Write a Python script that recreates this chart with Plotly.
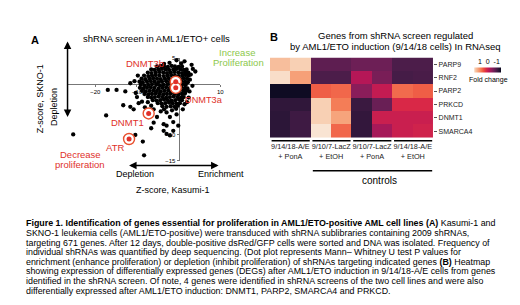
import plotly.graph_objects as go

# ---------------- Panel A data (Z-scores) ----------------
kasumi_z = [
    -3.5, -2.2, -0.5, 0.6, 1.4, 3.1, 4.0, 3.4,
    -5.2, -4.3, -3.5, -2.6, -1.7, -0.9, 0.0, 0.8,
    -6.6, -5.8, -4.9, -4.0, -3.1, -2.3, -1.3, -0.5, 0.4, 1.2, 1.9,
    -7.4, -6.5, -5.5, -4.6, -3.7, -2.8, -1.9, -1.0, -0.1, 0.8, 1.6, 2.3,
    -8.3, -7.3, -6.4, -5.5, -4.6, -3.6, -2.7, -1.8, -0.9, 0.0, 0.9, 1.7, 2.4,
    -8.9, -8.0, -7.0, -6.1, -5.2, -4.3, -3.3, -2.4, -1.5, -0.6, 0.3, 1.2, 2.0,
    -9.4, -8.6, -7.6, -6.7, -5.8, -4.9, -4.0, -3.0, -2.1, -1.2, -0.3, 0.6, 1.5, 2.2,
    -9.1, -8.2, -7.3, -6.4, -5.4, -4.5, -3.6, -2.7, -1.8, -0.9, 0.0, 0.9, 1.7,
    -9.3, -8.5, -7.6, -6.7, -5.8, -4.8, -3.9, -3.0, -2.1, -1.2, -0.3, 0.6, 1.5, 2.1,
    -8.8, -7.9, -7.0, -6.1, -5.2, -4.3, -3.4, -2.5, -1.6, -0.7, 0.2, 1.1, 1.8,
    -8.2, -7.3, -6.4, -5.5, -4.6, -3.7, -2.8, -1.9, -1.0, -0.1, 0.8, 1.5,
    -7.4, -6.6, -5.7, -4.8, -3.9, -3.0, -2.1, -1.2, -0.3, 0.6, 1.2,
    -6.2, -5.3, -4.4, -3.5, -2.6, -1.7, -0.8, 0.1, 0.8,
    -5.0, -4.1, -3.2, -2.3, -1.4, -0.5, 0.3,
    -3.9, -2.9, -1.9, -1.0, -0.2,
    -11.6, -10.6, -12.8, -10.3, -9.8, -10.0,
    2.7, 3.3, 2.9, 2.6, 2.4, 1.4, 1.0, 2.0,
    -4.3, -2.9, -5.2, -2.1, -0.5, -1.3, -0.1, -3.5, -1.6, -0.6, -6.0, -8.1, -8.8, -6.6, -7.4,
    -6.6, -6.0, -3.6, -2.9, -2.9, -2.1, -1.3, -10.4, -8.6, -8.3, -11.6, -9.6, -10.8, -3.6,
    -17.0, -14.9, -13.3, -17.4, -25.3,
]
skno_z = [
    3.9, 4.1, 4.6, 4.0, 4.4, 3.7, 2.4, 2.9,
    3.4, 3.5, 3.4, 3.3, 3.5, 3.4, 3.3, 3.4,
    2.8, 2.7, 2.8, 2.9, 2.8, 2.7, 2.8, 2.9, 2.8, 2.7, 2.8,
    2.2, 2.1, 2.2, 2.3, 2.2, 2.1, 2.2, 2.3, 2.2, 2.1, 2.2, 2.2,
    1.6, 1.5, 1.6, 1.7, 1.6, 1.5, 1.6, 1.7, 1.6, 1.5, 1.6, 1.7, 1.6,
    1.0, 0.9, 1.0, 1.1, 1.0, 0.9, 1.0, 1.1, 1.0, 0.9, 1.0, 1.1, 1.0,
    0.4, 0.3, 0.4, 0.5, 0.4, 0.3, 0.4, 0.5, 0.4, 0.3, 0.4, 0.5, 0.4, 0.3,
    -0.2, -0.3, -0.2, -0.1, -0.2, -0.3, -0.2, -0.1, -0.2, -0.3, -0.2, -0.1, -0.2,
    -0.8, -0.9, -0.8, -0.7, -0.8, -0.9, -0.8, -0.7, -0.8, -0.9, -0.8, -0.7, -0.8, -0.9,
    -1.4, -1.5, -1.4, -1.3, -1.4, -1.5, -1.4, -1.3, -1.4, -1.5, -1.4, -1.3, -1.4,
    -2.0, -2.1, -2.0, -1.9, -2.0, -2.1, -2.0, -1.9, -2.0, -2.1, -2.0, -1.9,
    -2.6, -2.7, -2.6, -2.5, -2.6, -2.7, -2.6, -2.5, -2.6, -2.7, -2.6,
    -3.2, -3.3, -3.2, -3.1, -3.2, -3.3, -3.2, -3.1, -3.2,
    -3.8, -3.9, -3.8, -3.7, -3.8, -3.9, -3.8,
    -4.4, -4.5, -4.4, -4.5, -4.3,
    0.1, 0.5, -1.5, -1.8, 1.6, -2.6,
    0.8, -0.4, 1.8, -1.5, -2.7, -4.0, -5.0, -3.6,
    -5.4, -5.6, -6.5, -6.5, -6.0, -7.5, -8.2, -5.0, -5.2, -4.9, -5.0, -4.6, -3.5, -4.3, -3.6,
    -8.7, -7.6, -9.2, -8.2, -9.8, -10.1, -9.2, -10.0, -11.3, -14.0, -4.5, -3.8, -5.0, -7.9,
    -1.2, -1.2, -4.2, -6.2, -9.9,
]

hit_genes = ["DNMT3b", "DNMT3a", "DNMT1", "ATR"]
hit_kasumi = [-0.7, -0.7, -7.2, -11.9]
hit_skno = [0.4, -0.8, -5.8, -10.8]

x_ticks = [-20, -10, 10]
y_ticks = [5, -10, -15]

# ---------------- Panel B data (fold change) ----------------
genes = ["PARP9", "RNF2", "PARP2", "PRKCD", "DNMT1", "SMARCA4"]
samples = [0, 1, 2, 3, 4, 5, 6, 7]
group_labels = ["9/14/18-A/E<br>+ PonA", "9/10/7-LacZ<br>+ EtOH",
                "9/10/7-LacZ<br>+ PonA", "9/14/18-A/E<br>+ EtOH"]
group_centers = [0.5, 2.5, 4.5, 6.5]
fold_change = [
    [0.84, 0.92, -0.56, -0.56, -0.48, -0.48, -0.66, -0.66],
    [0.96, 0.68, -0.66, -0.66, -0.12, -0.42, -0.70, -0.68],
    [-0.96, -0.96, 0.36, 0.40, -0.34, -0.04, 0.42, 0.36],
    [-0.82, -0.82, 0.92, 0.50, -0.76, -0.50, 0.10, 0.10],
    [-0.84, -0.74, 0.92, 0.70, -0.80, 0.00, 0.00, 0.00],
    [-0.84, -0.74, 0.98, 0.40, -0.80, -0.20, 0.00, 0.04],
]

caption_lines = [
    "<b>Figure 1. Identification of genes essential for proliferation in AML1/ETO-positive AML cell lines (A)</b> Kasumi-1 and",
    "SKNO-1 leukemia cells (AML1/ETO-positive) were transduced with shRNA sublibraries containing 2009 shRNAs,",
    "targeting 671 genes. After 12 days, double-positive dsRed/GFP cells were sorted and DNA was isolated. Frequency of",
    "individual shRNAs was quantified by deep sequencing. (Dot plot represents Mann– Whitney U test P values for",
    "enrichment (enhance proliferation) or depletion (inhibit proliferation) of shRNAs targeting indicated genes <b>(B)</b> Heatmap",
    "showing expression of differentially expressed genes (DEGs) after AML1/ETO induction in 9/14/18-A/E cells from genes",
    "identified in the shRNA screen. Of note, 4 genes were identified in shRNA screens of the two cell lines and were also",
    "differentially expressed after AML1/ETO induction: DNMT1, PARP2, SMARCA4 and PRKCD.",
]

W, H = 520, 305
FONT = "Liberation Sans, Arial, sans-serif"
RED = "#e0302a"
GREEN = "#8cc84b"


def px(x):
    return x / W


def py(y):
    return 1 - y / H


rocket_r = [
    [0.0, "#faebdd"], [0.05, "#f7c9aa"], [0.15, "#f6a47c"], [0.25, "#f47d57"],
    [0.35, "#ed503e"], [0.45, "#d92847"], [0.55, "#b91657"], [0.65, "#921c5b"],
    [0.75, "#691f55"], [0.85, "#451c47"], [0.95, "#221331"], [1.0, "#03051a"],
]

fig = go.Figure()

# scatter points
fig.add_trace(go.Scatter(
    x=kasumi_z, y=skno_z, mode="markers",
    marker=dict(size=4.3, color="black"), cliponaxis=False,
    xaxis="x", yaxis="y", showlegend=False, hoverinfo="skip"))
# highlighted hits: ring + white halo + red dot
fig.add_trace(go.Scatter(
    x=hit_kasumi, y=hit_skno, mode="markers", text=hit_genes,
    marker=dict(size=11, color="white", line=dict(color="#e8502e", width=1.4)),
    cliponaxis=False, xaxis="x", yaxis="y", showlegend=False))
fig.add_trace(go.Scatter(
    x=hit_kasumi, y=hit_skno, mode="markers", text=hit_genes,
    marker=dict(size=5, color=RED), cliponaxis=False,
    xaxis="x", yaxis="y", showlegend=False))

# heatmap (colorbar runs from +1 on the left to -1 on the right)
fig.add_trace(go.Heatmap(
    z=[[-v for v in row] for row in fold_change], x=samples, y=genes,
    customdata=fold_change,
    colorscale=rocket_r, zmin=-1, zmax=1, xaxis="x2", yaxis="y2",
    colorbar=dict(orientation="h", x=px(483.5), xanchor="center",
                  y=py(59.5), yanchor="middle", lenmode="pixels", len=27,
                  thickness=5, outlinewidth=0, showticklabels=False,
                  xpad=0, ypad=0)))

ann = []


def t(text, x, y, size=9, color="black", xanchor="center", angle=0, bold=False):
    if bold:
        text = "<b>" + text + "</b>"
    ann.append(dict(text=text, x=px(x), y=py(y), xref="paper", yref="paper",
                    showarrow=False, xanchor=xanchor, yanchor="middle",
                    textangle=angle, font=dict(size=size, color=color, family=FONT)))


# Panel A texts
t("A", 27, 29, size=11, bold=True)
t("shRNA screen in AML1/ETO+ cells", 150, 28, size=9.5)
t("Increase", 231, 42, size=9.5, color=GREEN)
t("Proliferation", 232, 52, size=9.5, color=GREEN)
t("DNMT3b", 138, 53, size=9.5, color=RED)
t("DNMT3a", 198, 90, size=9.2, color=RED)
t("DNMT1", 120, 113, size=9.5, color=RED)
t("ATR", 108, 139, size=9.5, color=RED)
t("Decrease", 73, 146, size=9.5, color=RED)
t("proliferation", 73, 156, size=9.5, color=RED)
t("Z-score, SKNO-1", 32, 89, size=9, angle=-90)
t("Depletion", 47, 98, size=9, angle=-90)
t("Depletion", 128, 166, size=9)
t("Enrichment", 215, 166, size=9)
t("Z-score, Kasumi-1", 166, 182, size=9)

# Panel B texts
t("B", 268, 26, size=11, bold=True)
t("Genes from shRNA screen regulated", 391, 25, size=9.5)
t("by AML1/ETO induction (9/14/18 cells) In RNAseq", 390, 36, size=9.5)
t("1  0  -1", 485, 51, size=7)
t("Fold change", 484, 70, size=7)
t("controls", 374, 172, size=10)

# caption
for i, line in enumerate(caption_lines):
    t(line, 16, 216 + 9.75 * i, size=8.9, xanchor="left")

# arrows
ann.append(dict(x=px(60), y=py(31), xref="paper", yref="paper", ax=0, ay=77,
                axref="pixel", ayref="pixel", text="", showarrow=True,
                arrowhead=2, arrowside="end+start", arrowsize=1, arrowwidth=1.5,
                arrowcolor="black"))
ann.append(dict(x=px(122), y=py(157), xref="paper", yref="paper", ax=91, ay=0,
                axref="pixel", ayref="pixel", text="", showarrow=True,
                arrowhead=2, arrowside="end+start", arrowsize=1, arrowwidth=1.5,
                arrowcolor="black"))

shapes = []
for g in range(4):
    shapes.append(dict(type="line", xref="x2", yref="paper",
                       x0=2 * g - 0.42, x1=2 * g + 1.45, y0=py(132), y1=py(132),
                       line=dict(color="black", width=1.5)))
shapes.append(dict(type="line", xref="x2", yref="paper", x0=1.6, x1=7.45,
                   y0=py(162.5), y1=py(162.5), line=dict(color="black", width=1.5)))

fig.update_layout(
    width=W, height=H, margin=dict(l=0, r=0, t=0, b=0),
    paper_bgcolor="white", plot_bgcolor="rgba(0,0,0,0)",
    font=dict(family=FONT, color="black"),
    annotations=ann, shapes=shapes, showlegend=False,
    xaxis=dict(domain=[px(59), px(214)], range=[-26.9, 10], anchor="free",
               position=py(74), showline=True, linecolor="#777", linewidth=1.3,
               tickvals=x_ticks, ticks="outside", ticklen=2, tickcolor="#777",
               tickfont=dict(size=6), showgrid=False, zeroline=False,
               layer="below traces", fixedrange=True, ticklabelstandoff=0),
    yaxis=dict(domain=[py(153), py(48)], range=[-15.2, 5.0], anchor="free",
               position=px(172), showline=True, linecolor="#777", linewidth=1.3,
               tickvals=y_ticks, ticks="outside", ticklen=2, tickcolor="#777",
               tickfont=dict(size=6), showgrid=False, zeroline=False,
               layer="below traces", fixedrange=True, ticklabelstandoff=0),
    xaxis2=dict(domain=[px(264), px(428.5)], range=[-0.5, 7.5], anchor="y2",
                tickvals=group_centers, ticktext=group_labels, ticks="",
                tickangle=0, tickfont=dict(size=7.3, color="#222"),
                showgrid=False, zeroline=False, showline=False,
                ticklabelstandoff=3),
    yaxis2=dict(domain=[py(129), py(47.3)], anchor="x2", side="right",
                autorange="reversed", ticks="outside", ticklen=3,
                tickcolor="#555", tickfont=dict(size=7, color="#222"),
                showgrid=False, zeroline=False, showline=False),
)

fig.write_html("out.html")
